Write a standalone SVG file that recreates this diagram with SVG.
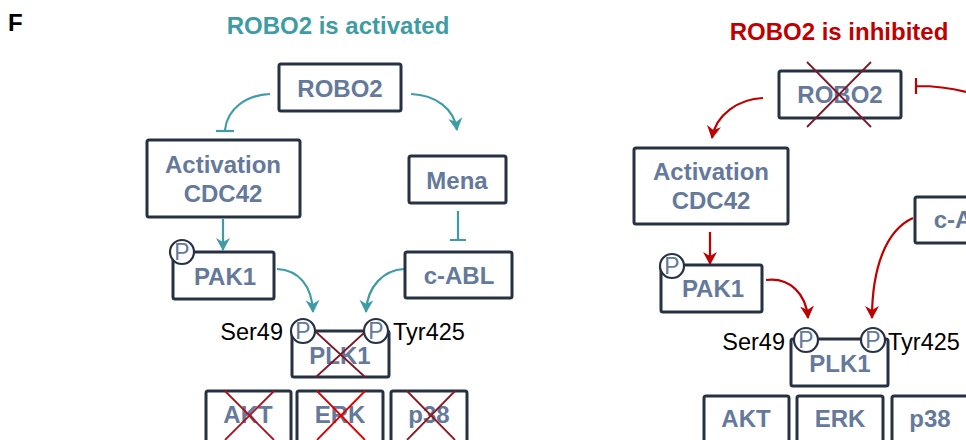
<svg xmlns="http://www.w3.org/2000/svg" width="966" height="440" viewBox="0 0 966 440">
<defs>
<style>
.box{fill:#fff;stroke:#263243;stroke-width:3}
.lbl{font-family:"Liberation Sans",Arial,sans-serif;font-weight:bold;font-size:24px;fill:#64799b;text-anchor:middle}
.site{font-family:"Liberation Sans",Arial,sans-serif;font-size:23.5px;fill:#000}
.pc{fill:#fff;stroke:#263243;stroke-width:2.2}
.pt{font-family:"Liberation Sans",Arial,sans-serif;font-size:23px;fill:#64799b;text-anchor:middle}
.teal{fill:none;stroke:#3d9ca6;stroke-width:2.2}
.red{fill:none;stroke:#c00000;stroke-width:2.2}
.x{stroke-width:1.8;fill:none}
</style>
<marker id="at" markerUnits="userSpaceOnUse" markerWidth="14" markerHeight="14" refX="12" refY="7" orient="auto"><path d="M0,0 L13,7 L0,14 L4,7 z" fill="#3d9ca6"/></marker>
<marker id="ar" markerUnits="userSpaceOnUse" markerWidth="14" markerHeight="14" refX="12" refY="7" orient="auto"><path d="M0,0 L13,7 L0,14 L4,7 z" fill="#c00000"/></marker>
</defs>
<rect width="966" height="440" fill="#fff"/>
<text x="8" y="31" style="font-family:'Liberation Sans',Arial,sans-serif;font-weight:bold;font-size:24px;fill:#000">F</text>
<text x="338" y="34" style="font-family:'Liberation Sans',Arial,sans-serif;font-weight:bold;font-size:24px;fill:#3d9ca6;text-anchor:middle">ROBO2 is activated</text>
<text x="839" y="40" style="font-family:'Liberation Sans',Arial,sans-serif;font-weight:bold;font-size:24px;fill:#c00000;text-anchor:middle">ROBO2 is inhibited</text>

<g id="connectors">
<path class="teal" d="M270,94 C246,95 227,109 225,130"/>
<path class="teal" d="M216,131 L234,131"/>
<path class="teal" d="M411,94 C435,95 454,108 457,130" marker-end="url(#at)"/>
<path class="teal" d="M458,211 L458,240 M450,240 L466,240"/>
<path class="teal" d="M223,219 L223,250" marker-end="url(#at)"/>
<path class="teal" d="M277,269 C299,270 312,286 313,312" marker-end="url(#at)"/>
<path class="teal" d="M404,269 C384,270 367,286 366,312" marker-end="url(#at)"/>
<path class="red" d="M763,98 C739,99 716,114 712,138" marker-end="url(#ar)"/>
<path class="red" d="M966,92 C950,88 934,86 917,86 M916,78 L916,94"/>
<path class="red" d="M913,218 C886,230 872,268 872,318" marker-end="url(#ar)"/>
<path class="red" d="M710,232 L710,264" marker-end="url(#ar)"/>
<path class="red" d="M766,280 C790,277 806,294 808,318" marker-end="url(#ar)"/>
</g>

<g id="robo2-a"><rect class="box" x="279" y="64" width="122" height="47" rx="2"/><text class="lbl" x="340" y="97">ROBO2</text></g>
<g id="cdc42-a"><rect class="box" x="147" y="140" width="153" height="77" rx="2"/><text class="lbl" x="223" y="173">Activation</text><text class="lbl" x="223" y="202">CDC42</text></g>
<g id="mena-a"><rect class="box" x="409" y="156" width="97" height="47" rx="2"/><text class="lbl" x="457" y="189">Mena</text></g>
<g id="cabl-a"><rect class="box" x="405" y="252" width="107" height="46" rx="2"/><text class="lbl" x="459" y="284">c-ABL</text></g>
<g id="pak1-a"><rect class="box" x="173" y="252" width="101" height="47" rx="2"/><text class="lbl" x="225" y="285">PAK1</text><circle class="pc" cx="182" cy="252" r="12"/><text class="pt" x="182" y="260">P</text></g>
<g id="plk1-a"><rect class="box" x="292" y="331" width="97" height="46" rx="2"/><text class="lbl" x="340" y="364">PLK1</text>
<path class="x" stroke="#7d1a2a" d="M316,332 L365,377 M365,332 L316,377"/>
<circle class="pc" cx="303" cy="331" r="12"/><text class="pt" x="303" y="339">P</text>
<circle class="pc" cx="376" cy="331" r="12"/><text class="pt" x="376" y="339">P</text>
<text class="site" x="283" y="340" text-anchor="end">Ser49</text><text class="site" x="393" y="340">Tyr425</text></g>
<g id="akt-a"><rect class="box" x="206" y="391" width="85" height="56" rx="2"/><text class="lbl" x="248" y="423">AKT</text><path class="x" stroke="#b0101a" d="M225,391 L274,440 M274,391 L225,440"/></g>
<g id="erk-a"><rect class="box" x="297" y="391" width="86" height="56" rx="2"/><text class="lbl" x="340" y="423">ERK</text><path class="x" stroke="#e00000" d="M317,391 L365,440 M365,391 L317,440"/></g>
<g id="p38-a"><rect class="box" x="391" y="391" width="76" height="56" rx="2"/><text class="lbl" x="429" y="423">p38</text><path class="x" stroke="#8b1a22" d="M407,391 L455,440 M455,391 L407,440"/></g>

<g id="robo2-i"><rect class="box" x="779" y="71" width="122" height="47" rx="2"/><text class="lbl" x="840" y="103">ROBO2</text><path class="x" stroke="#7d1a2a" d="M807,62 L871,127 M871,62 L807,127"/></g>
<g id="cdc42-i"><rect class="box" x="634" y="148" width="154" height="76" rx="2"/><text class="lbl" x="711" y="180">Activation</text><text class="lbl" x="711" y="209">CDC42</text></g>
<g id="cabl-i"><rect class="box" x="915" y="197" width="108" height="46" rx="2"/><text class="lbl" x="969" y="228">c-ABL</text></g>
<g id="pak1-i"><rect class="box" x="661" y="265" width="101" height="47" rx="2"/><text class="lbl" x="713" y="297">PAK1</text><circle class="pc" cx="672" cy="266" r="12"/><text class="pt" x="672" y="274">P</text></g>
<g id="plk1-i"><rect class="box" x="791" y="339" width="97" height="47" rx="2"/><text class="lbl" x="840" y="372">PLK1</text>
<circle class="pc" cx="806" cy="340" r="12"/><text class="pt" x="806" y="348">P</text>
<circle class="pc" cx="873" cy="340" r="12"/><text class="pt" x="873" y="348">P</text>
<text class="site" x="785" y="350" text-anchor="end">Ser49</text><text class="site" x="888" y="350">Tyr425</text></g>
<g id="akt-i"><rect class="box" x="704" y="396" width="85" height="56" rx="2"/><text class="lbl" x="746" y="427">AKT</text></g>
<g id="erk-i"><rect class="box" x="797" y="396" width="86" height="56" rx="2"/><text class="lbl" x="840" y="427">ERK</text></g>
<g id="p38-i"><rect class="box" x="892" y="396" width="76" height="56" rx="2"/><text class="lbl" x="930" y="427">p38</text></g>
</svg>
